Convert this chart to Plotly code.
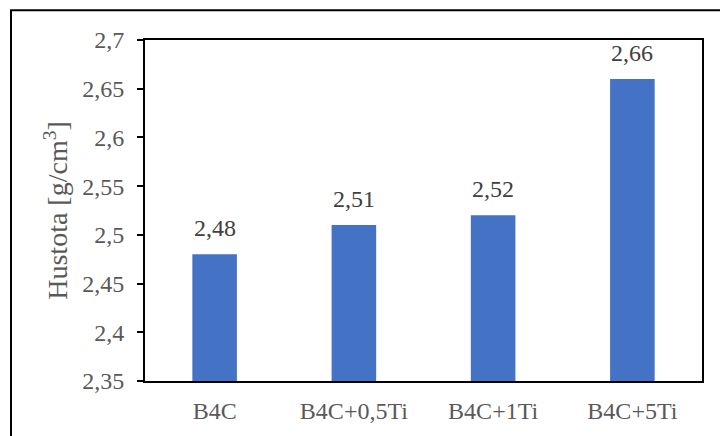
import plotly.graph_objects as go

categories = ["B4C", "B4C+0,5Ti", "B4C+1Ti", "B4C+5Ti"]
values = [2.48, 2.51, 2.52, 2.66]
labels = [f"{v:.2f}".replace(".", ",") for v in values]

W, H = 720, 436
L, R, T, B = 145, 18, 40, 52
pw, ph = W - L - R, H - T - B

def px_x(px):
    return (px - L) / pw

def px_y(py):
    return (H - B - py) / ph

font = "Liberation Serif"

fig = go.Figure(go.Bar(
    x=categories, y=values, width=0.32,
    marker=dict(color="#4472C4", line=dict(width=0)),
    hoverinfo="x+y",
))

annotations = [
    dict(x=c, y=v, xref="x", yref="y", text=t, showarrow=False,
         yanchor="bottom", xanchor="center", yshift=11,
         font=dict(family=font, size=24, color="#404040"))
    for c, v, t in zip(categories, values, labels)
]

fig.update_layout(
    width=W, height=H, margin=dict(l=L, r=R, t=T, b=B),
    plot_bgcolor="white", paper_bgcolor="white",
    separators=", ", showlegend=False,
    font=dict(family=font, size=24, color="#595959"),
    annotations=annotations,
    shapes=[dict(type="rect", xref="paper", yref="paper",
                 x0=px_x(11), x1=px_x(730), y0=px_y(450), y1=px_y(10),
                 line=dict(color="black", width=2), layer="below")],
)
fig.update_yaxes(
    range=[2.35, 2.7], dtick=0.05, tick0=2.35,
    showgrid=False, zeroline=False,
    showline=True, linecolor="black", linewidth=2, mirror=True,
    ticks="outside", ticklen=6, tickcolor="black", tickwidth=2,
    ticklabelstandoff=8,
    tickfont=dict(family=font, size=24, color="#595959"),
    title=dict(text="Hustota [g/cm<sup>3</sup>]",
               font=dict(family=font, size=28, color="#595959"), standoff=6),
)
fig.update_xaxes(
    showgrid=False, showline=True, linecolor="black", linewidth=2, mirror=True,
    ticks="", ticklabelstandoff=7,
    tickfont=dict(family=font, size=24, color="#595959"),
)

fig.write_html("out.html", config={"displayModeBar": False},
               post_script="document.body.style.margin='0';")
